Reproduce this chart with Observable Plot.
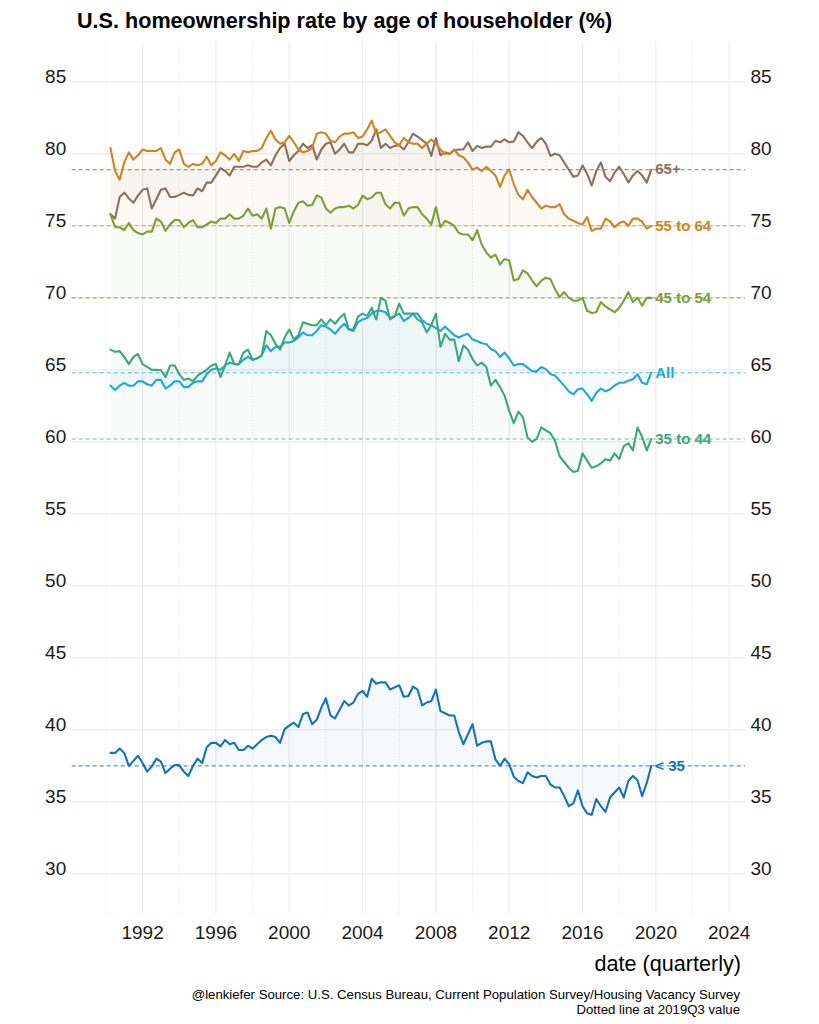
<!DOCTYPE html>
<html>
<head>
<meta charset="utf-8">
<script src="https://cdn.jsdelivr.net/npm/d3@7"></script>
<script src="https://cdn.jsdelivr.net/npm/@observablehq/plot@0.6"></script>
<style>
  body { margin: 0; background: #fff; font-family: "Liberation Sans", Arial, sans-serif; }
  #wrap { position: relative; width: 819px; height: 1024px; overflow: hidden; }
  #title { height: 33px; box-sizing: border-box; padding: 8px 0 0 77px; font-size: 21.6px; line-height: 25px; font-weight: bold; color: #000; }
  #chart svg { display: block; }
  #xlab { position: absolute; right: 78px; top: 951px; font-size: 21.6px; line-height: 26px; color: #000; }
  #cap { position: absolute; right: 79px; top: 987px; font-size: 13.2px; line-height: 15px; text-align: right; color: #000; }
</style>
</head>
<body>
<div id="wrap">
  <div id="title">U.S. homeownership rate by age of householder (%)</div>
  <div id="chart"></div>
  <div id="xlab">date (quarterly)</div>
  <div id="cap">@lenkiefer Source: U.S. Census Bureau, Current Population Survey/Housing Vacancy Survey<br>Dotted line at 2019Q3 value</div>
</div>
<script>
// Quarterly data, 1990Q1 .. 2019Q3 (119 quarters)
const startYear = 1990;
const seriesNames = ["65+", "55 to 64", "45 to 54", "All", "35 to 44", "< 35"];
const seriesColors = ["#8b705d", "#cd8424", "#7a9e3c", "#1da7de", "#3ca87a", "#1671b7"];

const age65plus = [
  75.8, 75.5, 77.0, 77.3, 76.9, 76.6, 77.1, 77.5, 77.6, 76.2, 76.85, 77.5, 77.6, 77.0, 77.0, 77.15, 77.3, 77.15, 77.1, 77.6,
  77.4, 78.0, 78.0, 78.5, 79.0, 78.8, 78.5, 79.1, 79.1, 79.1, 79.2, 79.1, 79.1, 79.4, 79.6, 79.2, 79.9, 80.4, 80.7, 79.5,
  79.9, 80.2, 80.7, 80.4, 80.6, 79.6, 80.3, 80.7, 80.8, 80.0, 80.3, 80.7, 80.1, 80.1, 80.7, 80.7, 80.6, 80.9, 81.7,
  80.4, 80.7, 80.4, 80.55, 80.6, 80.3, 80.8, 81.4, 81.2, 80.95, 80.7, 79.85, 81.1, 79.9, 80.1, 80.0, 80.25, 80.3, 80.3, 80.8,
  80.2, 80.55, 80.4, 80.5, 80.5, 80.9, 80.8, 81.0, 80.8, 80.85, 81.5, 81.25, 80.8, 80.4, 80.85, 81.1, 80.7, 79.85, 80.0, 79.9,
  79.4, 78.9, 78.4, 78.5, 79.2, 78.6, 77.8, 78.8, 79.4, 78.4, 78.1, 78.7, 79.1, 78.6, 78.0, 78.5, 78.8, 78.5, 78.0, 78.9
];
const age55to64 = [
  80.4, 78.8, 78.2, 79.4, 80.1, 79.6, 79.9, 80.3, 80.2, 80.2, 80.2, 80.4, 79.6, 79.3, 80.1, 80.3, 79.3, 79.1, 79.3, 79.2,
  79.3, 79.8, 79.2, 79.5, 80.1, 79.9, 79.6, 80.0, 79.5, 80.2, 80.1, 80.2, 80.2, 80.4, 81.1, 81.6, 81.0, 80.7, 80.8, 81.25,
  80.8, 80.3, 80.1, 80.2, 80.4, 81.4, 81.5, 81.4, 80.9, 80.8, 81.2, 81.4, 81.4, 81.5, 81.1, 81.2, 81.7, 82.3, 81.4,
  81.5, 81.7, 81.25, 80.8, 80.6, 81.1, 80.8, 80.7, 80.7, 80.4, 80.7, 81.0, 80.7, 80.3, 80.0, 80.0, 80.3, 79.9, 79.75, 79.4,
  78.9, 79.05, 78.8, 79.1, 78.8, 78.5, 77.7, 78.5, 78.9, 77.9, 77.15, 76.85, 77.5, 77.0, 76.6, 76.2, 76.4, 76.3, 76.3, 76.5,
  75.8, 75.5, 75.35, 75.2, 75.1, 75.6, 74.65, 74.8, 74.8, 75.5, 75.3, 74.9, 75.2, 75.3, 75.0, 75.5, 75.5, 75.3, 74.8, 75.0
];
const age45to54 = [
  75.8, 74.9, 74.9, 74.7, 75.2, 74.7, 74.5, 74.4, 74.6, 74.6, 75.5, 75.3, 74.65, 75.1, 75.4, 75.4, 74.9, 75.2, 75.4, 74.9,
  74.9, 75.1, 75.3, 75.2, 75.5, 75.5, 75.8, 75.5, 75.5, 75.7, 76.2, 75.7, 75.8, 75.5, 76.2, 74.8, 76.2, 76.3, 76.2, 75.2,
  76.0, 76.6, 76.7, 76.4, 76.45, 77.1, 76.97, 76.2, 75.9, 76.2, 76.3, 76.3, 76.4, 76.2, 76.45, 77.1, 76.85, 76.97, 77.3,
  77.3, 76.5, 76.2, 76.6, 76.6, 75.7, 76.2, 76.3, 76.3, 75.8, 75.5, 75.1, 76.3, 74.9, 75.35, 75.2, 75.0, 74.5, 74.4, 74.4,
  74.0, 74.7, 73.7, 73.15, 72.8, 73.0, 72.3, 72.7, 72.6, 71.2, 71.3, 71.9, 71.7, 71.2, 70.8, 71.2, 71.4, 71.3,
  70.6, 70.05, 70.4, 70.0, 69.8, 69.8, 70.0, 69.1, 68.95, 69.0, 69.7, 69.4, 69.2, 69.0, 69.3, 69.8, 70.4, 69.7, 70.0, 69.45, 70.0, 70.0
];
const allAges = [
  63.9, 63.6, 63.9, 64.1, 63.9, 63.9, 64.2, 64.2, 64.0, 63.9, 64.3, 64.3, 63.7, 63.9, 64.2, 64.2, 63.8, 63.8, 64.1, 64.2,
  64.2, 64.7, 65.0, 65.1, 65.0, 65.3, 65.5, 65.4, 65.4, 65.7, 65.9, 65.7, 65.8, 66.0, 66.7, 66.3, 66.6, 66.6, 66.9, 66.9,
  67.0, 67.25, 67.6, 67.4, 67.4, 67.7, 68.1, 68.0, 67.8, 67.5, 67.9, 68.2, 67.8, 67.7, 68.3, 68.5, 68.6, 68.9, 69.1,
  69.1, 69.0, 68.6, 68.75, 68.9, 68.4, 68.6, 68.9, 68.9, 68.45, 68.2, 68.1, 67.9, 67.7, 68.0, 67.7, 67.4, 67.25, 67.4, 67.5,
  67.1, 67.0, 66.85, 66.8, 66.45, 66.3, 65.9, 66.2, 65.8, 65.3, 65.4, 65.4, 65.15, 64.9, 64.9, 65.2, 65.05, 64.7, 64.6, 64.25,
  63.9, 63.5, 63.3, 63.65, 63.7, 63.3, 62.85, 63.4, 63.7, 63.5, 63.65, 63.9, 64.1, 64.1, 64.25, 64.35, 64.7, 64.1, 64.0, 64.8
];
const age35to44 = [
  66.4, 66.25, 66.3, 65.9, 65.4, 65.9, 66.1, 65.4, 65.2, 65.0, 65.0, 64.97, 64.5, 65.3, 65.3, 64.7, 64.3, 64.4, 64.2, 64.6,
  64.8, 65.0, 65.3, 65.4, 64.5, 65.3, 66.2, 65.4, 65.4, 66.2, 66.4, 65.7, 65.8, 66.0, 67.7, 67.4, 66.8, 66.4, 67.25, 67.8,
  67.1, 67.4, 68.3, 68.2, 68.1, 68.1, 68.5, 68.1, 68.5, 68.2, 68.6, 68.9, 67.8, 67.8, 68.7, 68.9, 68.75, 69.3, 68.5,
  70.0, 69.8, 68.5, 68.7, 69.6, 68.9, 68.9, 68.9, 68.5, 68.3, 67.6, 68.1, 68.9, 66.6, 67.5, 67.1, 67.1, 65.6, 66.7, 66.4,
  65.75, 65.3, 65.5, 65.2, 63.9, 64.3, 63.8, 63.2, 62.15, 61.3, 62.1, 61.7, 60.3, 60.0, 60.2, 61.0, 60.8, 60.6, 60.07, 59.0,
  58.6, 58.2, 57.9, 58.0, 59.2, 58.7, 58.2, 58.3, 58.5, 58.8, 58.7, 59.2, 58.8, 59.7, 59.9, 59.4, 61.0, 60.35, 59.4, 60.2
];
const under35 = [
  38.4, 38.4, 38.7, 38.4, 37.5, 37.85, 38.2, 37.7, 37.1, 37.45, 38.0, 37.8, 37.0, 37.3, 37.55, 37.55, 37.1, 36.8, 37.5, 38.0,
  37.7, 38.8, 39.1, 39.1, 38.85, 39.3, 39.0, 39.1, 38.6, 38.6, 38.9, 38.7, 39.0, 39.3, 39.5, 39.6, 39.5, 39.1, 40.05, 40.3,
  40.5, 40.2, 41.1, 41.2, 40.4, 40.7, 41.55, 42.2, 41.0, 40.8, 41.4, 42.0, 41.7, 41.9, 42.5, 42.7, 42.3, 43.55, 43.2,
  43.3, 43.3, 42.8, 42.95, 43.1, 42.3, 42.35, 43.0, 42.8, 41.7, 41.9, 42.0, 42.8, 41.3, 41.15, 41.0, 41.0, 39.85, 39.0, 39.7,
  40.4, 38.9, 39.1, 39.2, 39.2, 37.95, 37.5, 38.0, 37.6, 36.75, 36.45, 36.3, 37.05, 36.8, 36.7, 36.8, 36.8, 36.2, 36.0, 36.0,
  35.4, 34.7, 34.9, 35.8, 34.7, 34.2, 34.1, 35.2, 34.7, 34.3, 35.3, 35.65, 36.0, 35.3, 36.45, 36.8, 36.5, 35.4, 36.3, 37.5
];

const seriesValues = [age65plus, age55to64, age45to54, allAges, age35to44, under35];
const yTicks = [30, 35, 40, 45, 50, 55, 60, 65, 70, 75, 80, 85];
const xTicks = [1992, 1996, 2000, 2004, 2008, 2012, 2016, 2020, 2024];
const xMinor = [1990, 1994, 1998, 2002, 2006, 2010, 2014, 2018, 2022];

// quarter position: 1990Q1 plotted at 1990.25 (end of quarter)
const qx = i => startYear + (i + 1) / 4;

const rows = [];
const refs = [];
seriesNames.forEach((name, s) => {
  const vals = seriesValues[s];
  const ref = vals[vals.length - 1];
  vals.forEach((v, i) => rows.push({series: name, x: qx(i), value: v, ref}));
  refs.push({series: name, x: qx(vals.length - 1), ref});
});

const chart = Plot.plot({
  width: 819,
  height: 917,
  marginTop: 8.7,
  marginBottom: 37,
  marginLeft: 71.7,
  marginRight: 74,
  style: {fontFamily: "'Liberation Sans', Arial, sans-serif", color: "#1a1a1a", background: "#fff"},
  x: {domain: [1988.16, 2024.89]},
  y: {domain: [27.25, 87.75]},
  color: {domain: seriesNames, range: seriesColors},
  marks: [
    Plot.ruleY(yTicks, {stroke: "#ebebeb", strokeWidth: 1.2}),
    Plot.ruleX(xMinor, {stroke: "#d9d9d9", strokeWidth: 0.8, strokeDasharray: "1,2"}),
    Plot.ruleX(xTicks, {stroke: "#ebebeb", strokeWidth: 1.2}),
    Plot.areaY(rows, {x: "x", y1: "ref", y2: "value", z: "series", fill: "series", fillOpacity: 0.045}),
    Plot.text(refs, {x: "x", y: "ref", text: "series", fill: "series", dx: 4, textAnchor: "start", fontWeight: "bold", fontSize: 15}),
    Plot.ruleY(refs, {y: "ref", stroke: "series", strokeOpacity: 0.75, strokeWidth: 1.1, strokeDasharray: "4,3"}),
    Plot.line(rows, {x: "x", y: "value", z: "series", stroke: "series", strokeWidth: 2.1}),
    Plot.axisY(yTicks, {anchor: "left", tickSize: 0, tickPadding: 6, fontSize: 19, dy: -5, label: null}),
    Plot.axisY(yTicks, {anchor: "right", tickSize: 0, tickPadding: 5, fontSize: 19, dy: -5, label: null}),
    Plot.axisX(xTicks, {anchor: "bottom", tickSize: 0, tickPadding: 12, fontSize: 19, tickFormat: d => String(d), label: null})
  ]
});
document.getElementById("chart").appendChild(chart);
</script>
</body>
</html>
